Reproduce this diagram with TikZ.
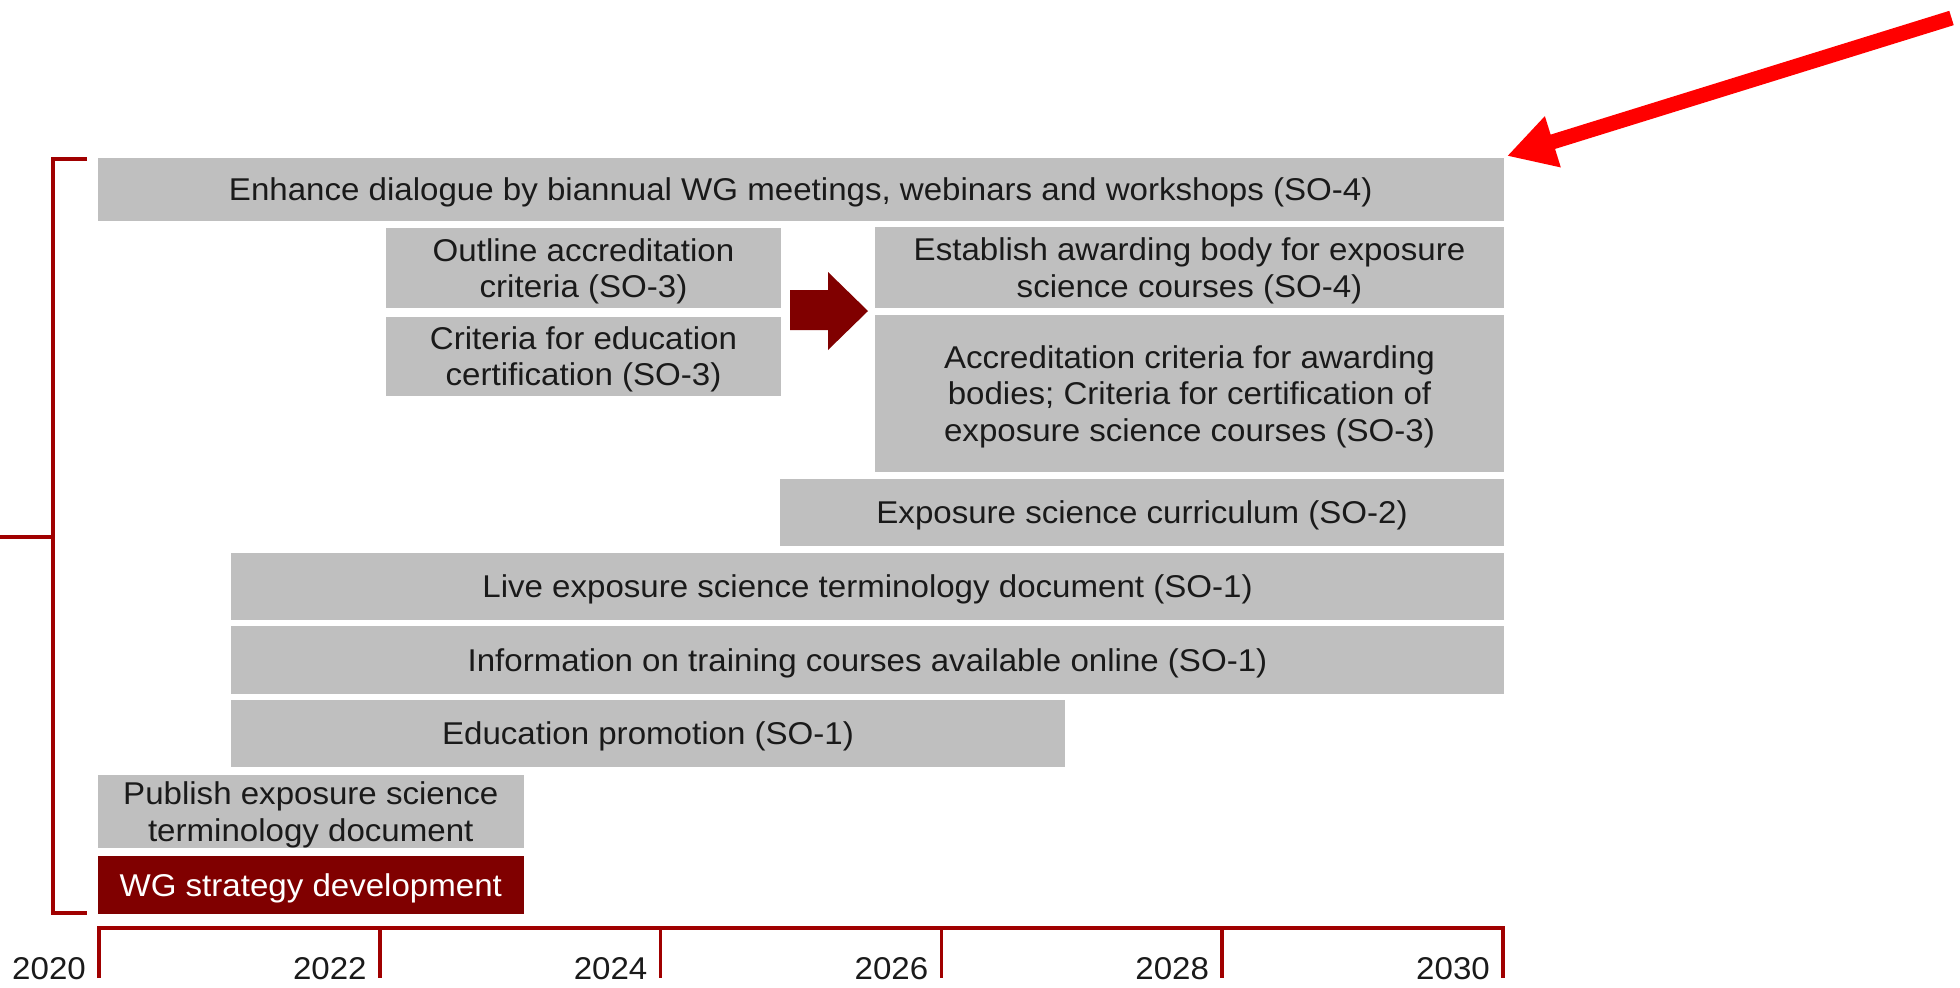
\documentclass[tikz,border=0pt]{standalone}
\usepackage{fontspec}
\setmainfont{Liberation Sans}[FakeStretch=1.05]
\usetikzlibrary{arrows.meta,calc}
\definecolor{boxgray}{RGB}{191,191,191}
\definecolor{wgred}{RGB}{128,0,0}
\definecolor{linered}{RGB}{160,0,0}
\definecolor{txt}{RGB}{26,26,26}
\definecolor{arrred}{RGB}{255,0,0}
\begin{document}
\begin{tikzpicture}[x=1pt,y=-1pt,
  bar/.style={rectangle, fill=boxgray, inner sep=0pt, outer sep=0pt, align=center, text=txt,
    font=\fontsize{31.5}{36.5}\selectfont, anchor=north west, text depth=0pt},
  wgbar/.style={bar, fill=wgred, text=white},
  rule/.style={draw=linered, line width=3.5pt, line join=miter},
  year/.style={anchor=base east, inner sep=0pt, text=txt, font=\fontsize{31.5}{36.5}\selectfont},
  chevron/.style={fill=wgred},
  callout/.style={draw=arrred, line width=15pt, -{Triangle[length=48pt,width=50pt]}}
]
\useasboundingbox (0,0) rectangle (1960,988);

% bars
\node[bar, minimum width=1406.5pt, minimum height=63.5pt] (enh) at (97.5,157.5)
  {Enhance dialogue by biannual WG meetings, webinars and workshops (SO-4)};
\node[bar, minimum width=395pt, minimum height=80pt] (outl) at (386,228)
  {Outline accreditation\\criteria (SO-3)};
\node[bar, minimum width=395pt, minimum height=79.5pt] (crit) at (386,316.5)
  {Criteria for education\\certification (SO-3)};
\node[bar, minimum width=629pt, minimum height=81pt] (estab) at (875,227)
  {Establish awarding body for exposure\\science courses (SO-4)};
\node[bar, minimum width=629pt, minimum height=157pt] (accr) at (875,315)
  {Accreditation criteria for awarding\\bodies; Criteria for certification of\\exposure science courses (SO-3)};
\node[bar, minimum width=724pt, minimum height=67pt] (curr) at (780,479)
  {Exposure science curriculum (SO-2)};
\node[bar, minimum width=1273pt, minimum height=67pt] (live) at (231,553)
  {Live exposure science terminology document (SO-1)};
\node[bar, minimum width=1273pt, minimum height=68pt] (info) at (231,626)
  {Information on training courses available online (SO-1)};
\node[bar, minimum width=834pt, minimum height=67pt] (edu) at (231,700)
  {Education promotion (SO-1)};
\node[bar, minimum width=426.5pt, minimum height=73pt] (pub) at (97.5,775)
  {Publish exposure science\\terminology document};
\node[wgbar, minimum width=426.5pt, minimum height=58pt] (wg) at (97.5,856)
  {WG strategy development};

% block arrow between criteria and awarding body columns
\fill[chevron] (790,290) -- (828,290) -- (828,272) -- (868,311) -- (828,350) -- (828,330) -- (790,330) -- cycle;

% bracket
\coordinate (bt) at (87,159);
\coordinate (bb) at (87,913);
\coordinate (bm) at (0,537);
\draw[rule] (bt) -- (53,159) -- (53,913) -- (bb);
\draw[rule] (bm) -- (53,537);

% timeline
\foreach \i/\yr in {0/2020,1/2022,2/2024,3/2026,4/2028,5/2030}{
  \coordinate (t\i) at ({99+280.8*\i},928);
  \coordinate (b\i) at ({99+280.8*\i},978);
  \node[year] (y\i) at ({99+280.8*\i-13},979) {\yr};
}
\draw[rule] (b0) -- (t0) -- (t5) -- (b5);
\foreach \i in {1,2,3,4}{ \draw[rule] (t\i) -- (b\i); }

% red callout arrow
\coordinate (tail) at (1951.5,18);
\coordinate (tip) at ($(enh.north east)+(3,-1.5)$);
\draw[callout] (tail) -- (tip);
\end{tikzpicture}
\end{document}
